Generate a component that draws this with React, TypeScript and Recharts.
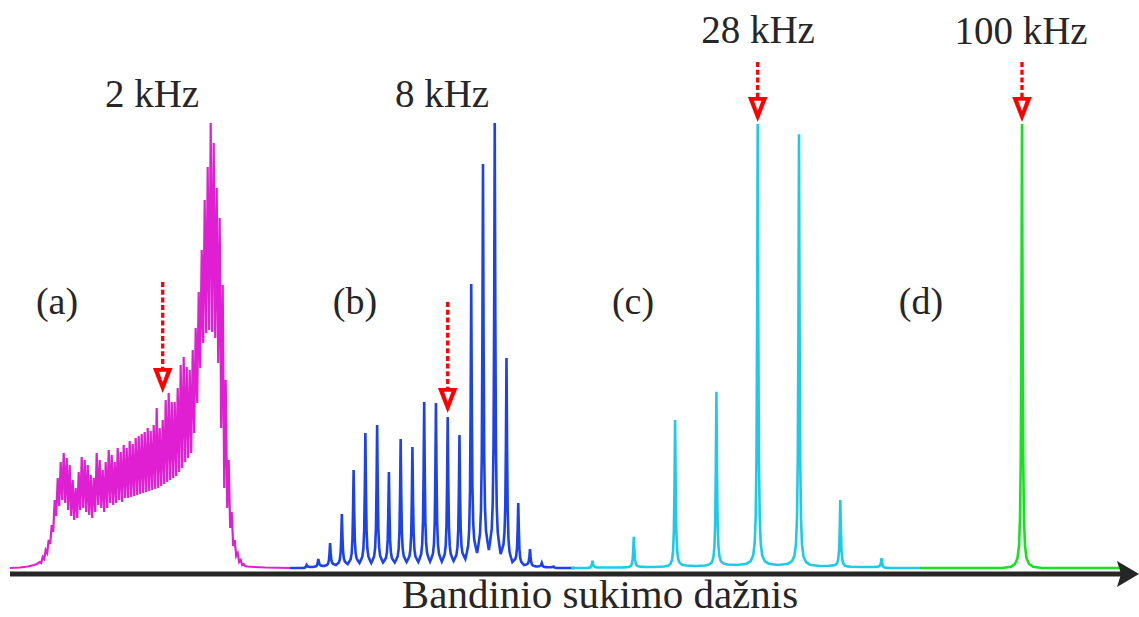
import { LineChart, Line, XAxis, YAxis, ReferenceLine, ReferenceDot } from "recharts";

const W = 1139;
const H = 617;

// heights above the baseline
// (a) 2 kHz: sideband tops and the dips that follow them, orders -41 .. 27
const magentaTops = [
  6, 11, 18, 28, 43, 68, 90, 106, 115,
  110, 103, 88, 80, 96, 111, 108, 103, 93, 90, 115, 108, 98, 106, 118, 113, 106, 120, 116, 123, 120, 127, 124, 130, 132, 134,
  136, 140, 137, 143,
  160, 140, 148, 168, 175, 166, 166, 180, 203, 211, 201, 198, 218, 240, 276, 318, 368, 401, 445, 425, 380, 350, 283, 188, 108,
  56, 28, 15, 8, 4,
];
const magentaValleys = [
  5, 9, 15, 24, 36, 52, 62, 68, 65,
  58, 52, 48, 50, 58, 60, 56, 53, 50, 56, 63, 60, 56, 60, 65, 63, 65, 68, 66, 70, 70, 71, 72, 73, 74, 75,
  76, 77, 78, 79,
  80, 82, 84, 86, 88, 90, 92, 96, 100, 106, 110, 115, 135, 165, 200, 225, 235, 238, 236, 230, 205, 140, 80, 60, 40,
  22, 12, 6, 3, 2,
];
const magentaLead = [
  [10, 0],
  [20, 0.5],
  [28, 1.5],
  [34, 3],
  [37, 4],
];
const magentaTail = [
  [247, 1.5],
  [255, 1],
  [265, 0.5],
  [290, 0],
];

// (b) 8 kHz, orders -12 .. 9; valleys sit left of each peak (+ one after the last)
const blueTops = [3, 9, 25, 54, 98, 135, 143, 96, 129, 121, 166, 165, 151, 133, 284, 404, 445, 210, 65, 19, 5, 1.5];
const blueValleys = [0, 1, 2, 3, 4, 5, 5, 5.5, 5.5, 6, 6, 6.5, 6.5, 7, 9, 15, 18, 14, 6, 3, 1.5, 0.8, 0];

// (c) 28 kHz, orders -4 .. 3
const cyanTops = [7.3, 31.3, 148, 176.3, 444, 433.7, 68, 9.7];
const cyanValleys = [0, 0.5, 1, 2, 3, 3, 2, 1, 0];

// (d) 100 kHz
const greenTops = [444];
const greenValleys = [0, 0];

// line shape of a single sideband (distance from centre, share of its height)
const shapeOffsets = [0.6, 1.2, 2, 3, 4.5, 7, 11];
const shapeFractions = [0.55, 0.25, 0.11, 0.05, 0.022, 0.009, 0.003];

const panelLabels = ["(a)", "(b)", "(c)", "(d)"];
const panelLabelX = [57, 355, 633, 921];
const rateLabels = ["2 kHz", "8 kHz", "28 kHz", "100 kHz"];
const rateLabelX = [152, 442, 758, 1021];
const rateLabelY = [461, 461, 525, 524];

// red markers on the isotropic line
const arrowX = [162.7, 447.7, 757.7, 1022];
const arrowTop = [286, 266, 506, 506];
const arrowHead = [200, 180, 471, 471];

type Pt = { x: number; y: number };

function zigzag(center: number, step: number, first: number, tops: number[], valleys: number[]): Pt[] {
  const pts: Pt[] = [];
  tops.forEach((t, i) => {
    const x = center + (first + i) * step;
    pts.push({ x, y: t });
    pts.push({ x: x + step / 2, y: valleys[i] });
  });
  return pts;
}

function peakTrace(
  center: number,
  step: number,
  first: number,
  tops: number[],
  valleys: number[],
  start: number,
  end: number
): Pt[] {
  const pts: Pt[] = [{ x: start, y: 0 }];
  const half = step / 2;
  tops.forEach((t, i) => {
    const x0 = center + (first + i) * step;
    const left = valleys[i];
    const right = valleys[i + 1];
    pts.push({ x: x0 - half, y: left });
    for (let k = shapeOffsets.length - 1; k >= 0; k--) {
      if (shapeOffsets[k] < half - 0.5) pts.push({ x: x0 - shapeOffsets[k], y: left + (t - left) * shapeFractions[k] });
    }
    pts.push({ x: x0, y: t });
    for (let k = 0; k < shapeOffsets.length; k++) {
      if (shapeOffsets[k] < half - 0.5) pts.push({ x: x0 + shapeOffsets[k], y: right + (t - right) * shapeFractions[k] });
    }
    if (i === tops.length - 1) pts.push({ x: x0 + half, y: right });
  });
  pts.push({ x: end, y: 0 });
  return pts;
}

const spectra = [
  {
    name: "a",
    color: "#e01fd2",
    width: 2.2,
    points: [
      ...magentaLead.map(([x, y]) => ({ x, y })),
      ...zigzag(162.7, 3, -41, magentaTops, magentaValleys),
      ...magentaTail.map(([x, y]) => ({ x, y })),
    ],
  },
  { name: "b", color: "#1c42ee", width: 2.6, points: peakTrace(447.7, 11.76, -12, blueTops, blueValleys, 290, 575) },
  { name: "c", color: "#1ccbea", width: 2.6, points: peakTrace(757.7, 41.3, -4, cyanTops, cyanValleys, 571, 921) },
  { name: "d", color: "#15e31f", width: 2.6, points: peakTrace(1022, 40, 0, greenTops, greenValleys, 920, 1122) },
];

const FONT = "'Liberation Serif', 'Times New Roman', serif";
const INK = "#262626";

const TextMark = (text: string, size: number) => (p: any) => (
  <text x={p.cx} y={p.cy} textAnchor="middle" fontFamily={FONT} fontSize={size} fill={INK}>
    {text}
  </text>
);

const RedHead = (p: any) => {
  const { cx, cy } = p;
  return (
    <g>
      <polygon points={`${cx - 9.8},${cy} ${cx + 9.8},${cy} ${cx},${cy + 25}`} fill="#ff0000" />
      <polygon points={`${cx - 3.7},${cy + 3.8} ${cx + 3.7},${cy + 3.8} ${cx},${cy + 14}`} fill="#ffffff" />
    </g>
  );
};

const AxisHead = (p: any) => {
  const { cx, cy } = p;
  return <polygon points={`${cx},${cy} ${cx - 22},${cy - 13} ${cx - 18},${cy} ${cx - 22},${cy + 13}`} fill={INK} />;
};

export default function App() {
  return (
    <div style={{ width: W, height: H, background: "#fff" }}>
      <style>{"body{margin:0}"}</style>
      <LineChart width={W} height={H} margin={{ top: 0, right: 0, bottom: 0, left: 0 }}>
        <XAxis type="number" dataKey="x" domain={[0, W]} hide allowDataOverflow />
        <YAxis type="number" domain={[-49, 568]} hide allowDataOverflow />

        {spectra.map((s) => (
          <Line
            key={s.name}
            data={s.points}
            dataKey="y"
            type="linear"
            stroke={s.color}
            strokeWidth={s.width}
            dot={false}
            activeDot={false}
            isAnimationActive={false}
          />
        ))}

        <ReferenceLine
          segment={[
            { x: 10, y: -6 },
            { x: 1122, y: -6 },
          ]}
          stroke={INK}
          strokeWidth={5}
          ifOverflow="visible"
        />
        <ReferenceDot x={1139} y={-6} ifOverflow="visible" shape={AxisHead} />

        {arrowX.map((x, i) => (
          <ReferenceLine
            key={"dash" + i}
            segment={[
              { x, y: arrowTop[i] },
              { x, y: arrowHead[i] },
            ]}
            stroke="#ff0000"
            strokeWidth={3.3}
            strokeDasharray="5 2.7"
            ifOverflow="visible"
          />
        ))}
        {arrowX.map((x, i) => (
          <ReferenceDot key={"head" + i} x={x} y={arrowHead[i]} ifOverflow="visible" shape={RedHead} />
        ))}

        {rateLabels.map((t, i) => (
          <ReferenceDot key={t} x={rateLabelX[i]} y={rateLabelY[i]} ifOverflow="visible" shape={TextMark(t, 39)} />
        ))}
        {panelLabels.map((t, i) => (
          <ReferenceDot key={t} x={panelLabelX[i]} y={254} ifOverflow="visible" shape={TextMark(t, 38)} />
        ))}
        <ReferenceDot x={600} y={-40} ifOverflow="visible" shape={TextMark("Bandinio sukimo dažnis", 41)} />
      </LineChart>
    </div>
  );
}
